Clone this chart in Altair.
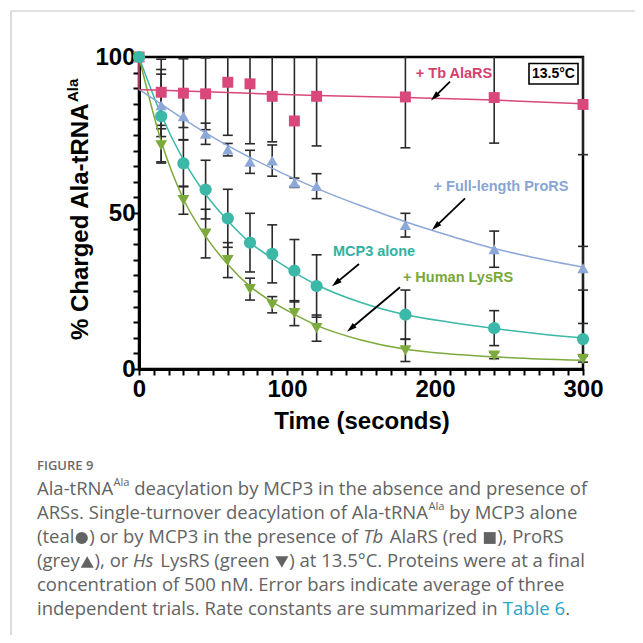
import math
import altair as alt
import pandas as pd

# ---------------- data ----------------
time_s = [0, 15, 30, 45, 60, 75, 90, 105, 120, 180, 240, 300]
mcp3_alone = [100, 81.0, 65.9, 57.5, 48.3, 40.5, 36.9, 31.5, 26.6, 17.4, 13.1, 9.6]
mcp3_alone_err = [0, 15, 7.5, 9.4, 9.3, 9.4, 9.3, 10, 10, 7.9, 5.6, 5]
tb_alars = [100, 88.7, 88.4, 88.2, 91.9, 91.4, 87.4, 79.5, 87.4, 87.2, 87.0, 84.8]
tb_alars_err = [0, 10.6, 11, 11.5, 17, 19.2, 14.6, 21, 15.9, 16.3, 14.6, 16.1]
prors = [100, 84.5, 81.0, 75.4, 70.3, 66.4, 66.8, 59.7, 58.6, 46.1, 38.4, 32.3]
prors_err = [0, 10, 7.5, 3.4, 2, 3.7, 5, 1.5, 4, 3.8, 5.8, 7]
lysrs = [100, 71.7, 54.1, 43.4, 34.9, 25.6, 20.6, 17.9, 13.1, 6.0, 4.3, 3.2]
lysrs_err = [0, 5.3, 4.5, 7.8, 5.6, 3.5, 2.6, 4, 4.2, 3.6, 1, 1]

# fitted curves
fit_time = [0, 15, 30, 45, 60, 75, 90, 105, 120, 150, 180, 210, 240, 270, 300]
mcp3_fit = [100, 81.5, 67, 56, 47.5, 40.5, 35.5, 31, 27, 21.3, 17.4, 15, 13, 11.3, 9.9]
lysrs_fit = [100, 73, 54.5, 42.5, 33.5, 26.5, 21.5, 17.5, 14, 9.3, 6.3, 4.8, 3.9, 3.2, 2.8]
prors_fit = [89.6, 84.9, 80.2, 75.7, 71.6, 67.8, 64.3, 61.0, 57.9, 52.3, 47.2, 42.7, 38.6, 35.4, 32.6]
alars_fit_time = [0, 0, 60, 120, 180, 240, 300]
alars_fit = [100, 89.6, 88.6, 87.7, 87.0, 86.2, 85.0]

series = ["Tb AlaRS", "Full-length ProRS", "Human LysRS", "MCP3 alone"]
colors = ["#D8487A", "#8CA8D8", "#7DAA3C", "#3BB8A8"]
shapes = ["square", "triangle-up", "triangle-down", "circle"]
sizes = [120, 150, 150, 135]

# ---------------- tables ----------------
rows = []
for name, vals, errs in [("Tb AlaRS", tb_alars, tb_alars_err),
                         ("Full-length ProRS", prors, prors_err),
                         ("Human LysRS", lysrs, lysrs_err),
                         ("MCP3 alone", mcp3_alone, mcp3_alone_err)]:
    for t, v, e in zip(time_s, vals, errs):
        rows.append({"s": name, "t": t, "v": v, "e": e, "o": len(rows)})
pts = pd.DataFrame(rows)
err = pts[pts.e > 0].copy()
err["lo"] = err.v - err.e
err["hi"] = (err.v + err.e).clip(upper=100)
err_hi_caps = err[(err.v + err.e) <= 100.2]

fits = []
for name, vals in [("MCP3 alone", mcp3_fit), ("Human LysRS", lysrs_fit), ("Full-length ProRS", prors_fit)]:
    for t, v in zip(fit_time, vals):
        fits.append({"s": name, "t": t, "v": v})
fits = pd.DataFrame(fits)
red_fit = pd.DataFrame({"t": alars_fit_time, "v": alars_fit, "o": list(range(len(alars_fit)))})

# ---------------- layout helpers ----------------
FONT = "Liberation Sans, Arial, sans-serif"
CFONT = "Open Sans, sans-serif"
X0, Y0 = 139, 57  # page position of the plot origin


def px(x):
    return x - X0


def py(y):
    return y - Y0


one = pd.DataFrame({"k": [0]})


def text_at(txt, x, y, **kw):
    return alt.Chart(one).mark_text(text=txt, **kw).encode(x=alt.value(px(x)), y=alt.value(py(y)))


def seg(x1, y1, x2, y2, color="black", width=1.8):
    return alt.Chart(one).mark_rule(color=color, strokeWidth=width).encode(
        x=alt.value(px(x1)), y=alt.value(py(y1)), x2=alt.value(px(x2)), y2=alt.value(py(y2)))


xs = alt.Scale(domain=[0, 300], nice=False, zero=False)
ys = alt.Scale(domain=[0, 100], nice=False, zero=False)
x_axis = alt.Axis(values=list(range(0, 301, 10)),
                  labelExpr="datum.value % 100 == 0 ? datum.label : ''",
                  title=None, grid=False, tickSize=6, tickWidth=2, tickColor="black",
                  domainColor="black", domainWidth=3, labelFont=FONT, labelFontSize=24,
                  labelFontWeight="bold", labelColor="black", labelPadding=2,
                  labelOverlap=False, labelFlush=False)
y_axis = alt.Axis(values=list(range(0, 101, 5)),
                  labelExpr="datum.value % 50 == 0 ? datum.label : ''",
                  title=None, grid=False, tickSize=6, tickWidth=2, tickColor="black",
                  domainColor="black", domainWidth=3, labelFont=FONT, labelFontSize=24,
                  labelFontWeight="bold", labelColor="black", labelPadding=-2,
                  labelOverlap=False, labelFlush=False)


def X(f):
    return alt.X(f, type="quantitative", scale=xs, axis=x_axis)


def Y(f):
    return alt.Y(f, type="quantitative", scale=ys, axis=y_axis)


col = alt.Color("s:N", scale=alt.Scale(domain=series, range=colors), legend=None)

layers = []
# error bars
layers.append(alt.Chart(err).mark_rule(color="#2a2a2a", strokeWidth=1.6).encode(
    x=X("t"), y=Y("lo"), y2=alt.Y2("hi")))
layers.append(alt.Chart(err).mark_rule(color="#2a2a2a", strokeWidth=1.6, xOffset=-5, x2Offset=5).encode(
    x=X("t"), x2=alt.X2("t"), y=Y("lo")))
layers.append(alt.Chart(err_hi_caps).mark_rule(color="#2a2a2a", strokeWidth=1.6, xOffset=-5, x2Offset=5).encode(
    x=X("t"), x2=alt.X2("t"), y=Y("hi")))
# fitted curves
layers.append(alt.Chart(fits).mark_line(interpolate="monotone", strokeWidth=1.5).encode(
    x=X("t"), y=Y("v"), color=col, detail="s:N"))
layers.append(alt.Chart(red_fit).mark_line(color="#D8487A", strokeWidth=1.5).encode(
    x=X("t"), y=Y("v"), order="o:Q"))
# points
layers.append(alt.Chart(pts).mark_point(filled=True, opacity=1).encode(
    x=X("t"), y=Y("v"), color=col,
    shape=alt.Shape("s:N", scale=alt.Scale(domain=series, range=shapes), legend=None),
    size=alt.Size("s:N", scale=alt.Scale(domain=series, range=sizes), legend=None),
    order="o:Q"))

# annotations
ann = dict(font=FONT, fontSize=14.5, fontWeight="bold", align="center", baseline="middle")
layers.append(text_at("+ Tb AlaRS", 454, 73.5, color="#D6406F", **ann))
layers.append(text_at("+ Full-length ProRS", 501, 187, color="#8AA5D5", **ann))
layers.append(text_at("MCP3 alone", 374, 252, color="#2FB3A3", **ann))
layers.append(text_at("+ Human LysRS", 458, 277.5, color="#78A83A", **ann))

arrows = [((450, 81.7), (431, 100.5)), ((465, 198.3), (432, 230)),
          ((359, 264), (332, 286.3)), ((400, 287.3), (347, 331.7))]
ARROW_PATH = "M0,-1L0.6,1L-0.6,1Z"
for (sx, sy), (ex, ey) in arrows:
    dx, dy = ex - sx, ey - sy
    L = math.hypot(dx, dy)
    ux, uy = dx / L, dy / L
    r = 5.0
    cx, cy = ex - ux * r, ey - uy * r
    ang = math.degrees(math.atan2(dx, -dy)) % 360
    layers.append(seg(sx, sy, cx, cy))
    layers.append(alt.Chart(one).mark_point(shape=ARROW_PATH, filled=True, color="black",
                                            opacity=1, size=(2 * r) ** 2, angle=ang).encode(
        x=alt.value(px(cx)), y=alt.value(py(cy))))

# temperature box
layers.append(alt.Chart(one).mark_rect(fill="white", stroke="black", strokeWidth=1.6).encode(
    x=alt.value(px(529)), x2=alt.value(px(578)), y=alt.value(py(63.5)), y2=alt.value(py(84))))
layers.append(text_at("13.5°C", 553.5, 74, font=FONT, fontSize=14, fontWeight="bold",
                      color="black", align="center", baseline="middle"))

# axis titles
layers.append(text_at("Time (seconds)", 362, 429, font=FONT, fontSize=24, fontWeight="bold",
                      color="black", align="center", baseline="alphabetic"))
layers.append(text_at("% Charged Ala-tRNA", 88, 340, font=FONT, fontSize=24, fontWeight="bold",
                      color="black", align="left", baseline="alphabetic", angle=270))
layers.append(text_at("Ala", 66, 102, font=FONT, fontSize=15, fontWeight="bold",
                      color="black", align="left", baseline="top", angle=270))

# ---------------- caption ----------------
OS = {' ': 0.26, 'a': 0.556, 'b': 0.613, 'c': 0.476, 'd': 0.613, 'e': 0.561, 'f': 0.339, 'g': 0.548,
      'h': 0.614, 'i': 0.253, 'j': 0.253, 'k': 0.525, 'l': 0.253, 'm': 0.930, 'n': 0.614, 'o': 0.604,
      'p': 0.613, 'q': 0.613, 'r': 0.408, 's': 0.477, 't': 0.353, 'u': 0.614, 'v': 0.501, 'w': 0.778,
      'x': 0.524, 'y': 0.502, 'z': 0.477, 'A': 0.633, 'B': 0.648, 'C': 0.631, 'D': 0.729, 'E': 0.556,
      'F': 0.516, 'G': 0.728, 'H': 0.738, 'I': 0.279, 'L': 0.519, 'M': 0.903, 'N': 0.760, 'O': 0.781,
      'P': 0.604, 'R': 0.620, 'S': 0.549, 'T': 0.553, '.': 0.266, ',': 0.245, '(': 0.295, ')': 0.295,
      '-': 0.322, '°': 0.418}


def tw(s, fs):
    return sum(OS.get(ch, 0.572 if ch.isdigit() else 0.55) for ch in s) * fs


CAP_FS = 18.5
CAP_COLOR = "#636363"
caption_lines = [
    [("Ala-tRNA", "n"), ("Ala", "sup"), (" deacylation by MCP3 in the absence and presence of", "n")],
    [("ARSs. Single-turnover deacylation of Ala-tRNA", "n"), ("Ala", "sup"), (" by MCP3 alone", "n")],
    [("(teal", "n"), ("circle", "sym"), (") or by MCP3 in the presence of ", "n"), ("Tb", "it"),
     (" AlaRS (red ", "n"), ("square", "sym"), ("), ProRS", "n")],
    [("(grey", "n"), ("triangle-up", "sym"), ("), or ", "n"), ("Hs", "it"),
     (" LysRS (green ", "n"), ("triangle-down", "sym"), (") at 13.5°C. Proteins were at a final", "n")],
    [("concentration of 500 nM. Error bars indicate average of three", "n")],
    [("independent trials. Rate constants are summarized in ", "n"), ("Table 6", "link"), (".", "n")],
]
line_y = [489, 513, 537, 561, 585, 609]

layers.append(text_at("FIGURE 9", 37, 466, font=CFONT, fontSize=13, fontWeight=600,
                      color="#6a6a6a", align="left", baseline="middle"))

sym_size = {"circle": 150, "square": 140, "triangle-up": 170, "triangle-down": 170}
for segs, yline in zip(caption_lines, line_y):
    cur = 37.0
    for txt, kind in segs:
        if kind == "sym":
            w = 0.8 * CAP_FS
            layers.append(alt.Chart(one).mark_point(shape=txt, filled=True, color=CAP_COLOR, opacity=1,
                                                    size=sym_size[txt]).encode(
                x=alt.value(px(cur + w / 2)), y=alt.value(py(yline + 1))))
            cur += w
            continue
        fs = CAP_FS * 0.6 if kind == "sup" else CAP_FS
        yy = yline - CAP_FS * 0.3 if kind == "sup" else yline
        lead = len(txt) - len(txt.lstrip(" "))
        w = tw(txt, fs)
        layers.append(text_at(txt.strip(), cur + lead * OS[' '] * fs, yy, font=CFONT, fontSize=fs,
                              fontWeight=400,
                              fontStyle="italic" if kind == "it" else "normal",
                              color="#2BA3C7" if kind == "link" else CAP_COLOR,
                              align="left", baseline="middle"))
        cur += w

# grey figure frame
layers.append(seg(11, 11, 11, 643, color="#c4c4c4", width=1.2))
layers.append(seg(11, 11, 643, 11, color="#c4c4c4", width=1.2))

chart = alt.layer(*layers).properties(
    width=444, height=312,
    padding={"left": 131, "top": 49, "right": 52, "bottom": 266},
    autosize=alt.AutoSizeParams(type="none"),
    background="white",
).configure_view(stroke="black", strokeWidth=2.5)

chart.save("out.html", embed_options={"renderer": "svg", "actions": False})
